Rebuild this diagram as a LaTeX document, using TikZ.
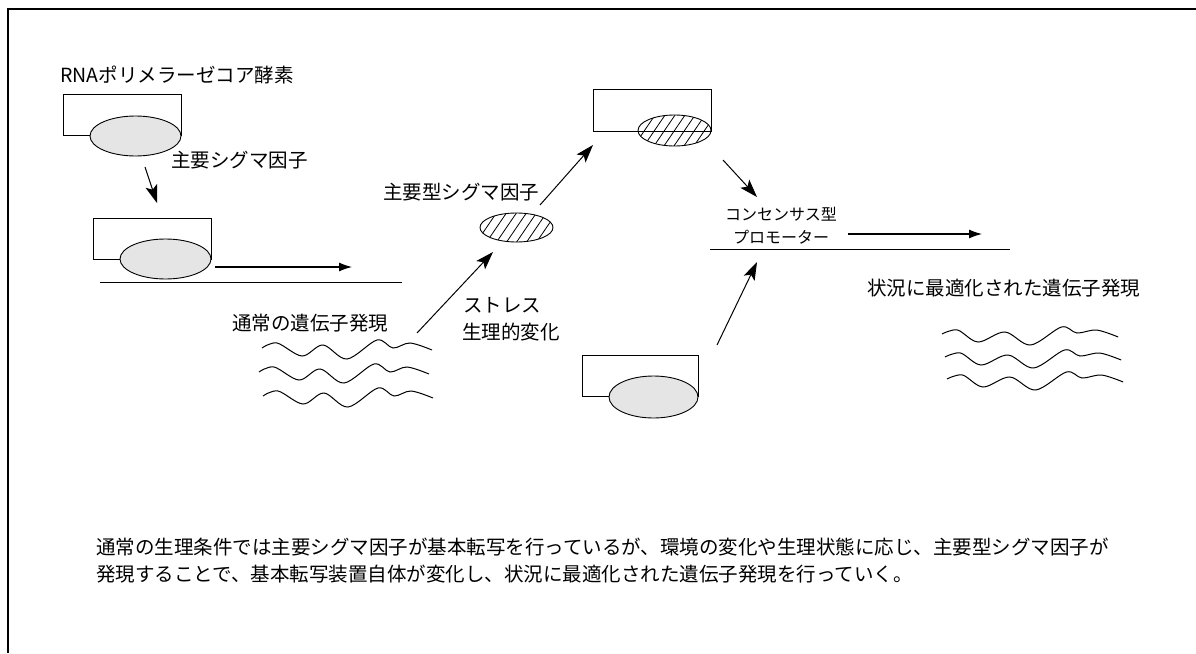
\documentclass[tikz,border=0pt]{standalone}
\usepackage{fontspec}
\setmainfont{Noto Sans CJK JP}
\usetikzlibrary{shapes.geometric,arrows.meta}
\begin{document}
\begin{tikzpicture}[x=1pt,y=-1pt,
  lbl/.style={anchor=west,inner sep=0pt,font=\fontsize{19.5}{24}\selectfont},
  slbl/.style={anchor=west,inner sep=0pt,font=\fontsize{16}{20}\selectfont},
  corebox/.style={draw,line width=1pt,rectangle,inner sep=0pt},
  sigma/.style={draw,line width=0.9pt,ellipse,inner sep=0pt,fill=black!10},
  hsigma/.style={draw,line width=0.9pt,ellipse,inner sep=0pt,
    path picture={\foreach \k in {-90,-80,...,90}
      \draw[line width=0.8pt] ([shift={(\k pt,0pt)}]path picture bounding box.center) ++(-15pt,-22pt) -- ++(30pt,44pt);}},
  arr/.style={line width=1pt,-{Stealth[length=18pt,width=12pt,inset=4pt]}},
  harr/.style={line width=1.1pt,-{Latex[length=13pt,width=9pt]}},
  dna/.style={line width=1pt},
  wave/.style={line width=1pt},
  frameline/.style={line width=1.6pt}
]
\useasboundingbox (0,0) rectangle (1196,653);
\fill[white] (0,0) rectangle (1196,653);
% frame
\coordinate (fr1) at (1196,9);
\coordinate (fr2) at (8,9);
\coordinate (fr3) at (8,653);
\draw[frameline] (fr1) -- (fr2) -- (fr3);

% core enzyme 1 with sigma
\node[lbl] (rnalbl) at (60,75) {RNAポリメラーゼコア酵素};
\node[corebox,minimum width=118pt,minimum height=41pt] (r1) at (122,114.5) {};
\node[sigma,minimum width=91pt,minimum height=40pt] (s1) at (135.5,136) {};
\node[lbl] (siglbl) at (171,160) {主要シグマ因子};
\coordinate (a1s) at (145,167);
\coordinate (a1e) at (157,203);
\draw[arr] (a1s) -- (a1e);

% holoenzyme on DNA
\node[corebox,minimum width=118pt,minimum height=41pt] (r2) at (152,238.5) {};
\node[sigma,minimum width=91pt,minimum height=40pt] (s2) at (165.5,259) {};
\coordinate (a2s) at (215,267);
\coordinate (a2e) at (352,267);
\draw[harr] (a2s) -- (a2e);
\coordinate (d1s) at (100,282);
\coordinate (d1e) at (402,282);
\draw[dna] (d1s) -- (d1e);
\node[lbl] (norm) at (232,323) {通常の遺伝子発現};

% left waves
\foreach \sx/\sy in {262/348,259/372,263/396}{
  \begin{scope}[shift={(\sx,\sy)}]
    \draw[wave] plot[smooth,tension=0.55] coordinates {(0,0) (15,-5) (40,8) (61,-3) (85,11) (115,-8) (131,0) (148,-5) (170,2)};
  \end{scope}
}

% stress arrow
\coordinate (a3s) at (417,333);
\coordinate (a3e) at (493,252);
\draw[arr] (a3s) -- (a3e);
\node[lbl] (str1) at (463,305) {ストレス};
\node[lbl] (str2) at (462,332) {生理的変化};

% alternative sigma
\node[hsigma,minimum width=73pt,minimum height=29pt] (hs) at (516.5,227.5) {};
\node[lbl] (altlbl) at (383,192) {主要型シグマ因子};
\coordinate (a4s) at (540,205);
\coordinate (a4e) at (593,145);
\draw[arr] (a4s) -- (a4e);

% core with alt sigma
\node[corebox,minimum width=118pt,minimum height=42pt] (r3) at (652,110) {};
\node[hsigma,minimum width=73pt,minimum height=31pt] (hs3) at (674.5,130.5) {};
\coordinate (a5s) at (723,160);
\coordinate (a5e) at (757,197);
\draw[arr] (a5s) -- (a5e);

% bottom core enzyme
\node[corebox,minimum width=116pt,minimum height=41pt] (r4) at (640,375.5) {};
\node[sigma,minimum width=89pt,minimum height=42pt] (s4) at (653.5,397) {};
\coordinate (a6s) at (717,345);
\coordinate (a6e) at (757,262);
\draw[arr] (a6s) -- (a6e);

% consensus promoter
\node[slbl] (cons1) at (725,214) {コンセンサス型};
\node[slbl] (cons2) at (733,237) {プロモーター};
\coordinate (a7s) at (848,234);
\coordinate (a7e) at (982,234);
\draw[harr] (a7s) -- (a7e);
\coordinate (d2s) at (710,249);
\coordinate (d2e) at (1010,249);
\draw[dna] (d2s) -- (d2e);
\node[lbl] (opt) at (867,288) {状況に最適化された遺伝子発現};

% right waves
\foreach \sx/\sy in {942/334,945/357,947/379}{
  \begin{scope}[shift={(\sx,\sy)},xscale=1.03]
    \draw[wave] plot[smooth,tension=0.55] coordinates {(0,0) (15,-4) (35,8) (61,-2) (86,11) (116,-7) (131,-1) (150,-4) (171,3)};
  \end{scope}
}

% caption
\node[lbl] (cap1) at (96,547) {通常の生理条件では主要シグマ因子が基本転写を行っているが、環境の変化や生理状態に応じ、主要型シグマ因子が};
\node[lbl] (cap2) at (96,574) {発現することで、基本転写装置自体が変化し、状況に最適化された遺伝子発現を行っていく。};
\end{tikzpicture}
\end{document}
